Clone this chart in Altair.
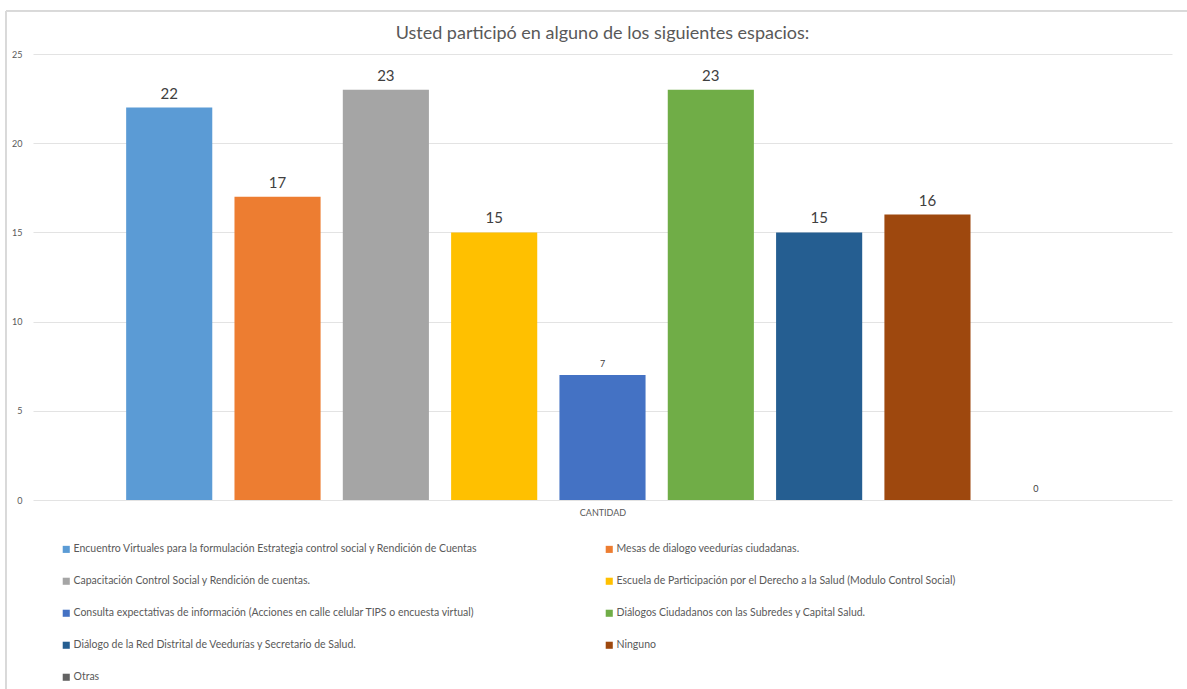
import altair as alt
import pandas as pd

# Survey answers: participation spaces and number of respondents
espacios = [
    "Encuentro Virtuales para la formulación Estrategia control social y Rendición de Cuentas",
    "Mesas de dialogo veedurías ciudadanas.",
    "Capacitación Control Social y Rendición de cuentas.",
    "Escuela de Participación por el Derecho a la Salud (Modulo Control Social)",
    "Consulta expectativas de información (Acciones en calle celular TIPS o encuesta virtual)",
    "Diálogos Ciudadanos con las Subredes y Capital Salud.",
    "Diálogo de la Red Distrital de Veedurías y Secretario de Salud.",
    "Ninguno",
    "Otras",
]
cantidades = [22, 17, 23, 15, 7, 23, 15, 16, 0]
colores = ["#5B9BD5", "#ED7D31", "#A5A5A5", "#FFC000", "#4472C4",
           "#70AD47", "#255E91", "#9E480E", "#636363"]
ticks_y = [0, 5, 10, 15, 20, 25]

df = pd.DataFrame({"espacio": espacios, "cantidad": cantidades})

FONT = "Lato"
GRIS = "#595959"

base = alt.Chart(df)

bars = base.mark_bar().encode(
    x=alt.X(
        "espacio:N",
        sort=espacios,
        scale=alt.Scale(paddingInner=0.205, paddingOuter=0.86),
        axis=alt.Axis(title="CANTIDAD", labels=False, ticks=False, domain=False,
                      grid=False, titleFontSize=9, titleColor=GRIS,
                      titleFont=FONT, titleFontWeight="normal", titlePadding=8),
    ),
    y=alt.Y(
        "cantidad:Q",
        scale=alt.Scale(domain=[0, 25], nice=False),
        axis=alt.Axis(title=None, values=ticks_y, domain=False, ticks=False,
                      labelFontSize=9, labelColor=GRIS, labelFont=FONT,
                      labelPadding=11, gridColor="#e3e3e3"),
    ),
    color=alt.Color(
        "espacio:N",
        sort=espacios,
        scale=alt.Scale(domain=espacios, range=colores),
        legend=alt.Legend(
            title=None, orient="none", legendX=28, legendY=490,
            direction="horizontal", columns=2, columnPadding=126, rowPadding=21,
            symbolType="square", symbolSize=50, symbolStrokeWidth=0,
            labelFontSize=10.5, labelColor=GRIS, labelFont=FONT,
            labelLimit=600, labelOffset=2,
        ),
    ),
)

labels = base.mark_text(baseline="bottom", dy=-6, color="#404040", font=FONT).encode(
    x=alt.X("espacio:N", sort=espacios),
    y="cantidad:Q",
    text="cantidad:Q",
    size=alt.condition(alt.datum.cantidad > 10, alt.value(15), alt.value(9)),
)

# light outer frame: top and left edges of the figure border
borde_sup = alt.Chart().mark_rule(color="#d9d9d9", strokeWidth=1).encode(
    x=alt.value(-27), x2=alt.value(1170), y=alt.value(-43)
)
borde_izq = alt.Chart().mark_rule(color="#d9d9d9", strokeWidth=1).encode(
    x=alt.value(-27), y=alt.value(-43), y2=alt.value(645)
)

chart = (
    alt.layer(borde_sup, borde_izq, bars, labels, data=df)
    .properties(
        width=1139,
        height=446,
        view=alt.ViewBackground(stroke="transparent", strokeWidth=0),
        title=alt.Title(
            "Usted participó en alguno de los siguientes espacios:",
            font=FONT, fontSize=18, fontWeight="normal", color=GRIS,
            anchor="middle", offset=-32,
        ),
        padding={"left": 33, "top": 54, "right": 15, "bottom": 189},
        autosize=alt.AutoSizeParams(type="none"),
    )
    .configure_view(stroke="transparent", strokeWidth=0)
    .configure_axisX(grid=False)
    .configure(background="white")
)

chart.save("out.html", embed_options={"renderer": "svg", "actions": False})
